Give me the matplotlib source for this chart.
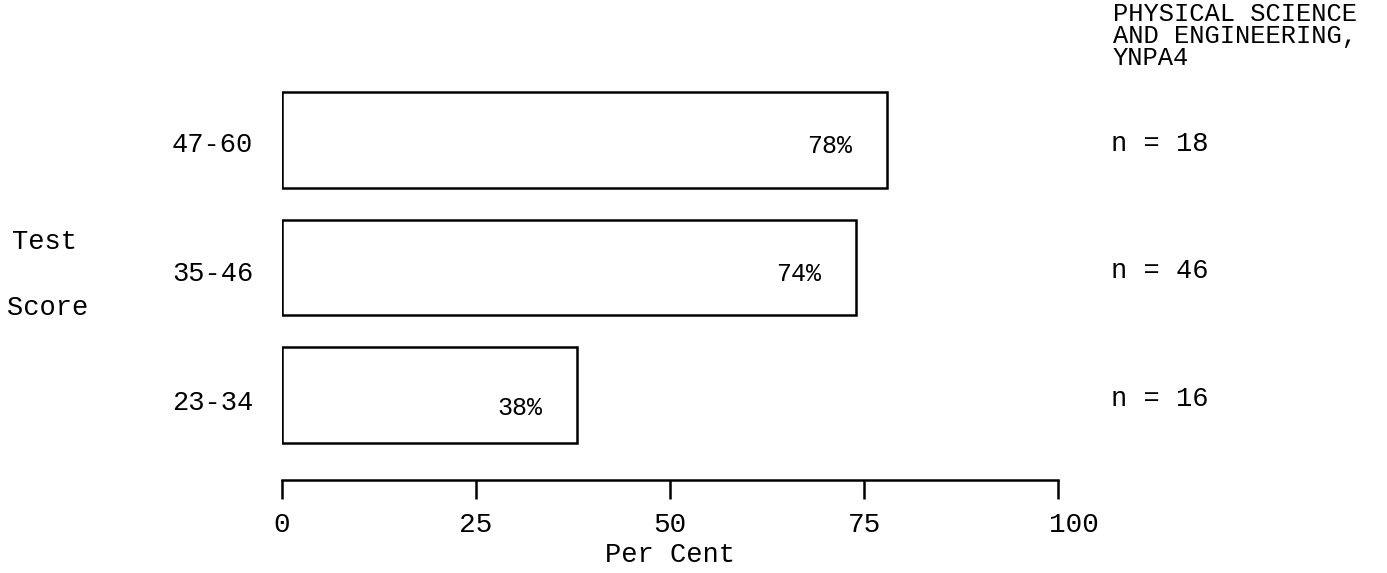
import matplotlib
matplotlib.use("Agg")
import matplotlib.pyplot as plt
from matplotlib.transforms import offset_copy

# ---- data ----
score_ranges = ["23-34", "35-46", "47-60"]
percents = [38, 74, 78]
pct_labels = ["38%", "74%", "78%"]
n_labels = ["n = 16", "n = 46", "n = 18"]
x_ticks = [0, 25, 50, 75, 100]
x_ticklabels = ["0", "25", "50", "75", "100"]
title_lines = ["PHYSICAL SCIENCE", "AND ENGINEERING,", "YNPA4"]

FONT = "Liberation Mono"
plt.rcParams["font.family"] = [FONT, "DejaVu Sans Mono"]

W, H = 1387, 573
fig = plt.figure(figsize=(W / 100, H / 100), dpi=100)
fig.patch.set_facecolor("white")

# axes: x 0 at px 282, 100 at px 1058 ; bottom (axis line) at px 480, top at px 60
ax_left, ax_right = 282, 1058
ax_bottom, ax_top = 480, 60
ax = fig.add_axes([ax_left / W, (H - ax_bottom) / H,
                   (ax_right - ax_left) / W, (ax_bottom - ax_top) / H])
ax.set_xlim(0, 100)
ppu = (395 - 140) / 2.0
ax.set_ylim(-(ax_bottom - 395) / ppu, 2 + (140 - ax_top) / ppu)

ypos = list(range(len(score_ranges)))
ax.barh(ypos, percents, height=0.75, color="white", edgecolor="black",
        linewidth=1.8, zorder=2)

pct_dy = [-0.1, -0.05, -0.05]
for y, p, lab, dy in zip(ypos, percents, pct_labels, pct_dy):
    ax.text(p - 4.5, y + dy, lab, ha="right", va="center", fontsize=18,
            color="black")

for y, lab in zip(ypos, n_labels):
    ax.text(106.8, y - 0.03, lab, ha="left", va="center", fontsize=19.5,
            color="black", clip_on=False)

cat_dy = [-0.06, -0.05, -0.04]
for y, lab, dy in zip(ypos, score_ranges, cat_dy):
    ax.text(-3.7, y + dy, lab, ha="right", va="center", fontsize=19.5,
            color="black", clip_on=False)
ax.set_yticks([])

ax.set_xticks(x_ticks)
ax.set_xticklabels(x_ticklabels, fontsize=20)
ax.tick_params(axis="x", direction="out", length=14, width=1.8, pad=9,
               colors="black")
last = ax.get_xticklabels()[-1]
last.set_ha("left")
last.set_transform(offset_copy(last.get_transform(), fig=fig, x=-9, y=0,
                               units="dots"))
ax.set_xlabel("Per Cent", fontsize=19.5, labelpad=3)

for s in ["top", "right", "left"]:
    ax.spines[s].set_visible(False)
ax.spines["bottom"].set_linewidth(1.8)
ax.set_facecolor("white")

# side texts
fig.text(12 / W, 1 - 242 / H, "Test", fontsize=19.5, ha="left", va="center")
fig.text(7 / W, 1 - 308 / H, "Score", fontsize=19.5, ha="left", va="center")
for i, line in enumerate(title_lines):
    fig.text(1113 / W, 1 - (14 + 22 * i) / H, line, fontsize=18.4,
             ha="left", va="center")

fig.savefig("out.png", dpi=100, facecolor="white")
